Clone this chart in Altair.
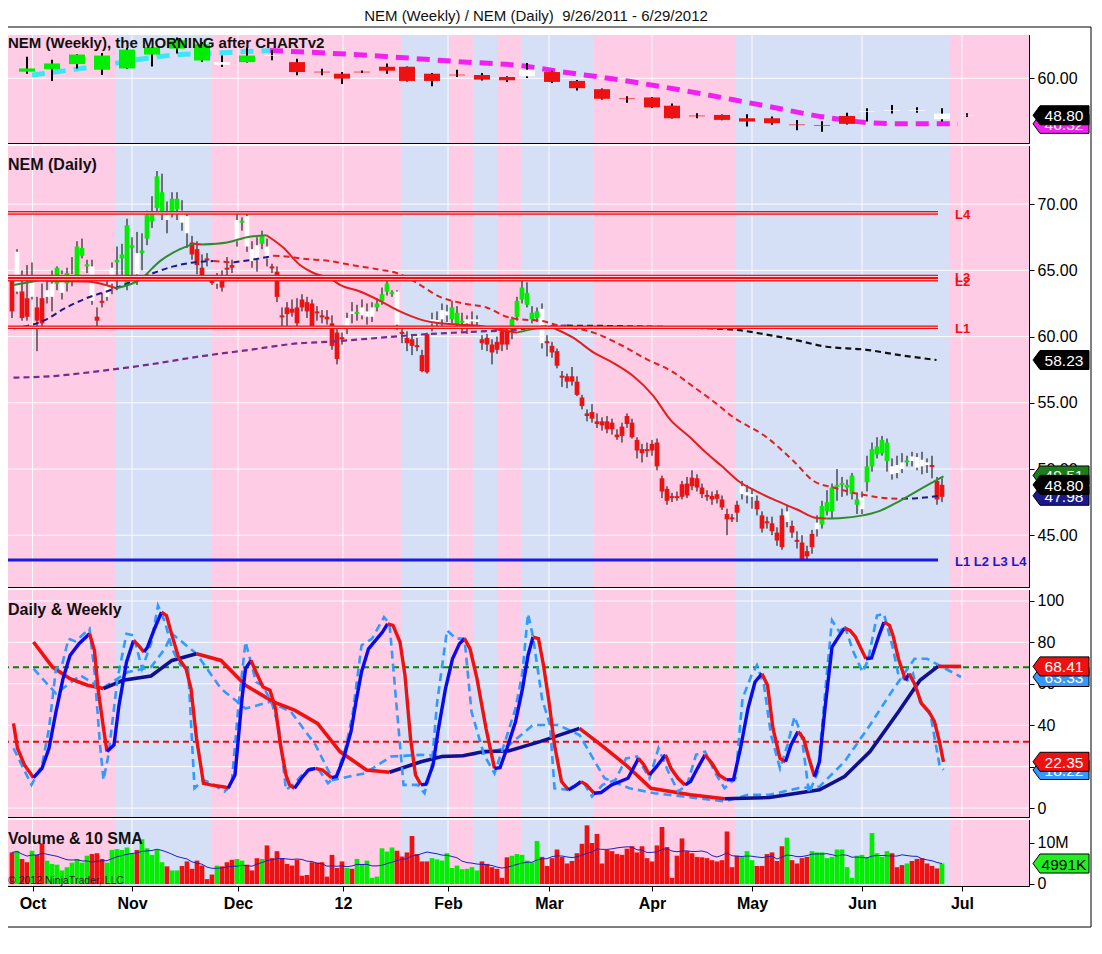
import altair as alt
import pandas as pd

FONT = "Arial"
W = 1028
H_WEEK, H_DAY, H_STO, H_VOL = 108, 441, 227, 66
XS = alt.Scale(domain=[-0.2, 205.4], nice=False, zero=False)

GREEN, RED, WHITE = "#00EE00", "#EE1111", "#FFFFFF"
PINK, LAV = "#FFCCE5", "#D5DFF5"

TITLE = "NEM (Weekly) / NEM (Daily)\u00a0\u00a09/26/2011 - 6/29/2012"

# ---------------- calendar / axis data ----------------
HOLIDAYS = ["2011-11-24", "2011-12-26", "2012-01-02", "2012-01-16",
            "2012-02-20", "2012-04-06", "2012-05-28"]
MONTH_TICKS = [6.1, 26, 47.2, 68.2, 89.2, 109.4, 130, 150, 172, 192]
MONTH_LABELS = ["Oct", "Nov", "Dec", "12", "Feb", "Mar", "Apr", "May", "Jun", "Jul"]

BAND_START = [-0.2, 22.6, 41.8, 79.8, 89.4, 94.2, 99.0, 103.8, 118.4, 146.8, 189.6]
BAND_END = [22.6, 41.8, 79.8, 89.4, 94.2, 99.0, 103.8, 118.4, 146.8, 189.6, 205.4]
BAND_KIND = ["p", "b", "p", "b", "p", "b", "p", "b", "p", "b", "p"]

# ---------------- daily bars (bar index 2 .. 188) ----------------
FIRST_BAR = 2
D_OPEN = [
    64.3, 63.4, 63.4, 62.9, 63.0, 62.2, 62.9, 63.0, 63.0, 64.0,
    63.3, 64.0, 64.2, 64.5, 66.1, 65.3, 65.3, 61.5, 62.7, 63.0,
    64.0, 65.6, 65.9, 63.9, 66.7, 66.3, 66.3, 67.4, 68.7, 69.7,
    69.4, 69.2, 69.4, 69.6, 69.5, 69.1, 67.1, 66.6, 65.2, 65.9,
    64.2, 64.0, 64.3, 65.2, 65.4, 67.2, 68.6, 69.1, 66.6, 66.9,
    67.0, 66.8, 65.3, 64.9, 61.6, 62.2, 62.1, 62.2, 62.8, 62.6,
    62.5, 61.9, 61.6, 61.5, 61.0, 60.3, 59.95, 60.6, 61.9, 61.7,
    61.6, 61.5, 61.5, 62.2, 62.7, 63.4, 63.2, 63.4, 60.35, 59.9,
    59.8, 59.35, 58.6, 60.2, 61.0, 61.1, 61.3, 61.6, 61.3, 60.9,
    61.05, 61.0, 61.15, 61.1, 59.8, 59.9, 59.4, 59.6, 60.4, 60.5,
    60.4, 61.5, 62.8, 62.4, 61.3, 61.4, 62.1, 59.65, 59.3, 58.9,
    57.05, 57.0, 57.0, 56.6, 55.4, 54.2, 54.3, 53.6, 53.6, 53.6,
    53.5, 52.6, 53.2, 54.0, 53.5, 52.2, 51.5, 51.5, 51.9, 52.0,
    49.3, 48.5, 47.95, 47.95, 48.85, 48.9, 49.35, 49.3, 48.6, 48.05,
    47.97, 48.1, 47.7, 46.6, 46.35, 47.3, 48.1, 48.0, 47.9, 47.6,
    46.5, 46.05, 45.9, 45.2, 46.5, 46.0, 45.7, 44.65, 44.45, 43.8,
    44.1, 45.45, 45.8, 46.8, 46.8, 48.65, 48.8, 48.6, 48.1, 47.3,
    46.96, 49.0, 50.2, 51.1, 51.2, 50.6, 50.2, 50.3, 50.5, 50.5,
    50.95, 50.9, 50.7, 50.5, 50.3, 49.1, 47.9]
D_HIGH = [
    64.6, 66.6, 65.0, 65.4, 65.6, 63.0, 64.0, 64.2, 65.0, 65.3,
    65.0, 65.2, 66.0, 67.2, 67.4, 65.8, 65.8, 62.2, 63.3, 64.3,
    65.6, 66.8, 67.0, 68.9, 67.5, 67.9, 67.8, 69.5, 70.6, 72.5,
    72.3, 70.2, 70.9, 70.9, 70.3, 69.4, 67.6, 67.2, 66.2, 66.3,
    64.4, 64.8, 65.0, 66.0, 65.8, 69.4, 69.0, 69.4, 67.2, 67.5,
    68.0, 67.4, 65.5, 65.3, 62.2, 62.6, 62.8, 62.9, 63.2, 63.0,
    62.8, 62.3, 62.0, 62.0, 61.6, 60.6, 60.3, 61.8, 62.6, 62.4,
    62.8, 62.5, 62.6, 62.9, 63.7, 64.4, 63.5, 63.5, 60.8, 60.4,
    60.2, 59.9, 59.0, 60.3, 61.8, 61.9, 62.5, 62.4, 62.7, 62.3,
    61.8, 61.6, 61.9, 61.6, 60.1, 60.2, 59.8, 60.0, 60.8, 60.7,
    61.5, 63.0, 64.2, 64.1, 62.3, 62.2, 62.5, 60.1, 59.6, 59.1,
    57.4, 57.2, 57.7, 57.0, 55.6, 54.5, 54.9, 54.2, 53.9, 54.0,
    53.8, 53.0, 53.5, 54.2, 53.8, 52.4, 51.9, 52.0, 52.2, 52.3,
    49.5, 48.7, 48.2, 48.3, 49.1, 49.4, 49.9, 49.6, 48.9, 48.4,
    48.3, 48.4, 48.0, 47.0, 46.6, 47.6, 49.1, 48.8, 48.5, 48.0,
    46.8, 46.4, 46.4, 45.6, 47.0, 47.2, 46.1, 45.3, 45.0, 44.2,
    45.4, 46.5, 47.6, 48.4, 48.9, 50.0, 49.4, 49.2, 49.7, 48.2,
    48.3, 51.0, 52.0, 52.4, 52.5, 52.3, 50.8, 51.0, 51.2, 51.0,
    51.3, 51.2, 51.3, 50.8, 51.0, 49.4, 49.3]
D_LOW = [
    61.4, 63.2, 61.2, 61.2, 62.8, 58.9, 60.6, 62.5, 61.9, 63.5,
    62.8, 63.4, 63.8, 64.2, 65.9, 64.8, 62.4, 60.8, 62.2, 62.7,
    63.2, 63.5, 64.3, 63.5, 64.6, 63.9, 65.0, 66.9, 68.2, 69.4,
    68.8, 67.8, 69.0, 68.8, 68.0, 66.7, 65.8, 64.7, 64.4, 65.3,
    63.9, 63.6, 63.4, 64.2, 64.8, 66.8, 68.0, 66.4, 65.2, 64.9,
    66.6, 65.3, 64.8, 62.6, 60.6, 60.8, 61.5, 60.6, 61.9, 61.4,
    60.6, 61.2, 61.0, 60.9, 59.0, 57.9, 59.4, 60.2, 61.0, 61.2,
    61.3, 60.9, 61.1, 61.9, 62.4, 63.1, 63.0, 60.5, 59.5, 58.9,
    58.6, 58.9, 57.3, 57.2, 60.4, 60.6, 60.8, 61.1, 61.0, 60.6,
    60.4, 60.2, 60.6, 60.7, 59.0, 58.9, 57.9, 58.7, 58.9, 59.0,
    59.8, 61.2, 62.5, 62.2, 61.0, 61.1, 59.1, 58.5, 58.4, 57.6,
    56.2, 56.1, 56.3, 55.5, 54.5, 53.6, 53.5, 53.1, 52.9, 52.7,
    52.6, 52.2, 52.0, 53.1, 52.3, 50.8, 50.5, 50.9, 51.0, 49.9,
    47.8, 47.3, 47.5, 47.6, 47.7, 47.8, 48.4, 48.3, 47.8, 47.6,
    47.3, 47.4, 46.9, 45.0, 46.0, 46.0, 47.7, 47.4, 47.0, 46.5,
    45.2, 45.5, 45.0, 44.2, 43.9, 45.6, 44.8, 44.0, 43.1, 43.1,
    43.6, 44.9, 45.5, 46.5, 46.3, 47.6, 47.9, 48.0, 47.7, 46.6,
    46.6, 48.3, 49.8, 50.8, 51.0, 49.8, 49.2, 49.3, 49.7, 50.2,
    50.2, 49.9, 49.6, 49.7, 49.3, 47.3, 47.5]
D_CLOSE = [
    61.9, 66.4, 61.4, 61.5, 64.2, 61.2, 61.0, 63.5, 64.0, 65.2,
    64.7, 64.8, 64.7, 66.8, 66.7, 65.45, 62.7, 61.2, 62.55, 63.9,
    65.2, 65.8, 66.2, 68.4, 66.9, 64.7, 66.5, 69.2, 69.3, 72.1,
    70.9, 68.8, 70.4, 70.4, 68.6, 67.8, 66.2, 65.4, 64.5, 65.75,
    64.05, 64.5, 63.7, 65.05, 65.2, 68.8, 68.75, 66.8, 65.7, 65.8,
    67.6, 65.9, 65.15, 63.0, 61.45, 61.7, 61.8, 61.0, 62.2, 61.9,
    60.8, 61.75, 61.45, 61.3, 59.3, 58.3, 59.8, 61.4, 61.7, 61.85,
    62.2, 61.9, 62.2, 62.5, 63.2, 64.0, 63.35, 60.9, 60.2, 59.5,
    59.3, 59.2, 57.4, 57.3, 61.3, 61.25, 62.0, 61.9, 62.2, 61.8,
    61.2, 61.3, 61.3, 61.3, 59.5, 59.4, 58.8, 59.0, 59.4, 59.4,
    61.3, 62.7, 63.7, 63.3, 61.8, 61.9, 59.5, 59.5, 58.8, 57.8,
    56.9, 56.6, 56.6, 55.6, 54.75, 54.0, 53.8, 53.4, 53.3, 53.0,
    53.0, 52.4, 52.5, 53.4, 52.4, 51.4, 51.2, 51.35, 51.4, 50.2,
    48.3, 47.6, 47.8, 47.8, 47.9, 48.0, 48.7, 48.6, 48.1, 47.9,
    47.7, 47.75, 47.1, 46.2, 46.2, 46.7, 48.7, 48.25, 48.1, 46.96,
    45.5, 45.9, 45.3, 44.6, 44.1, 46.8, 45.2, 44.5, 43.2, 43.4,
    45.1, 45.95, 47.2, 47.5, 48.6, 48.8, 48.95, 48.8, 49.5, 47.7,
    47.85, 50.2, 51.5, 51.7, 52.2, 52.0, 49.6, 49.7, 50.0, 50.65,
    50.6, 50.1, 50.2, 50.3, 50.15, 47.7, 48.8]
D_TONE = list(
    "rwrrwrrwwg" + "wgwgggwrrw" + "wggggwgggg" + "gwggwwrrrr" + "rwrrrwgwww"
    + "gwrrrrrrrr" + "rrrrrrrwwg" + "wwwggggwrr" + "rrrrwwwwgg" + "gwwwrrrrrr"
    + "ggggggwrrr" + "rrrrrrrrrr" + "rrrrrrrrrr" + "rrrrrrrrrr" + "rrrrrrwwwr"
    + "rrrrrwrrrr" + "rwgggggggg" + "wgggggwwwg" + "wwwwrrr")
D_VOLUME = [
    7.7, 8.1, 6.1, 5.3, 8.1, 7.1, 9.9, 5.7, 4.9, 4.7,
    3.3, 4.1, 5.2, 6.1, 5.2, 6.9, 7.3, 7.5, 6.1, 5.2,
    8.3, 8.5, 8.3, 8.9, 7.5, 8.3, 10.9, 8.7, 7.1, 8.3,
    5.3, 4.3, 3.3, 3.3, 4.4, 5.5, 3.7, 5.7, 4.5, 1.2,
    2.3, 4.5, 4.3, 5.3, 5.9, 6.1, 5.7, 4.7, 3.3, 6.3,
    6.1, 9.4, 6.3, 8.0, 6.3, 4.9, 4.5, 5.9, 2.0, 2.2,
    5.3, 5.2, 5.3, 1.8, 7.1, 3.9, 5.5, 3.9, 3.7, 6.1,
    4.9, 5.7, 1.5, 1.8, 8.7, 7.9, 8.9, 8.1, 6.7, 7.7,
    11.7, 7.3, 5.5, 5.5, 6.3, 6.0, 5.7, 7.5, 3.9, 4.5,
    3.6, 3.7, 4.1, 3.3, 5.5, 4.9, 4.1, 3.7, 1.5, 6.5,
    6.9, 7.3, 7.1, 5.7, 5.3, 10.5, 6.6, 4.4, 6.3, 8.4,
    6.6, 5.0, 5.6, 7.5, 9.8, 14.3, 10.0, 12.2, 5.0, 8.3,
    8.0, 7.3, 7.1, 8.6, 9.2, 7.7, 9.2, 6.3, 5.5, 9.4,
    13.9, 9.0, 1.5, 6.9, 11.1, 8.0, 7.5, 6.6, 6.5, 6.3,
    5.8, 5.5, 5.8, 12.8, 4.1, 6.9, 6.7, 8.0, 5.8, 4.4,
    4.4, 7.3, 7.7, 5.6, 9.2, 11.3, 5.8, 5.0, 6.3, 6.6,
    8.0, 7.7, 7.7, 6.3, 6.6, 8.4, 8.4, 4.1, 1.5, 6.9,
    7.1, 6.5, 12.4, 7.5, 6.6, 8.0, 7.5, 4.1, 4.6, 5.0,
    5.6, 6.1, 6.3, 5.0, 4.4, 3.8, 5.0]

# ---------------- weekly bars ----------------
W_OPEN = [62.0, 62.8, 64.3, 62.6, 63.0, 67.2, 69.0, 65.4, 64.9, 64.9,
          66.8, 64.9, 62.0, 61.4, 62.0, 63.5, 63.5, 61.4, 61.1, 61.0,
          60.4, 60.6, 61.9, 59.2, 56.7, 53.9, 54.2, 51.7, 48.7, 48.9,
          47.9, 47.9, 46.0, 45.8, 46.2, 49.8, 50.1, 50.1, 49.3, 48.9]
W_HIGH = [66.5, 65.6, 67.3, 67.7, 69.2, 69.5, 72.4, 71.0, 66.9, 69.3,
          68.6, 65.9, 62.9, 61.9, 62.4, 64.5, 63.6, 61.6, 62.6, 61.6,
          60.6, 64.6, 62.3, 59.5, 56.9, 54.6, 54.3, 52.4, 49.4, 49.0,
          49.1, 48.4, 47.4, 47.0, 49.6, 50.9, 51.9, 51.2, 50.9, 49.4]
W_LOW = [61.4, 59.2, 63.0, 61.0, 62.9, 63.6, 67.5, 65.0, 63.4, 64.8,
         65.5, 60.9, 60.9, 58.3, 61.6, 61.4, 59.0, 57.6, 60.4, 59.3,
         58.9, 60.1, 58.6, 56.3, 53.6, 52.6, 51.0, 47.8, 47.9, 47.3,
         45.4, 45.9, 44.3, 43.8, 46.0, 46.9, 49.3, 49.6, 46.9, 48.3]
W_CLOSE = [63.0, 64.5, 67.2, 66.9, 68.7, 69.4, 71.5, 70.3, 64.1, 66.9,
           67.0, 61.9, 61.8, 59.9, 61.8, 62.3, 59.2, 59.2, 60.9, 59.6,
           59.4, 62.6, 58.9, 57.0, 53.8, 53.7, 51.2, 47.9, 48.5, 47.4,
           46.9, 46.4, 45.8, 45.6, 48.6, 50.0, 50.3, 50.3, 47.6, 48.8]
W_TONE = list("gggggggg" + "wgw" + "r" * 10 + "w" + "r" * 13 + "wwwww")

# ---------------- indicator lines (bar index, value) ----------------
W_MA = [(6, 61.0), (13.6, 62.5), (20.6, 64.0), (27.6, 65.8), (34.6, 67.1), (41.8, 67.6),
        (48.8, 68.1), (53.6, 68.4), (62.8, 67.8), (76.8, 66.6), (90.8, 65.1), (105, 63.6),
        (109.6, 62.5), (123.6, 59.5), (137.8, 55.9), (151.8, 51.9), (166, 47.9), (173, 46.6),
        (180, 46.2), (191.2, 46.2)]
MA_FAST = [(2.3, 63.9), (7.6, 64.25), (10.3, 64.2), (16.9, 64.15), (22.9, 63.65), (27.6, 64.3),
           (31.6, 65.7), (35.6, 66.6), (38.3, 67.0), (40, 66.95), (45, 67.1), (49, 67.5),
           (52.9, 67.65), (56.3, 66.7), (59.6, 65.4), (62.3, 64.8), (65.6, 64.4), (67.6, 63.9),
           (71.6, 63.4), (75.6, 62.7), (79.6, 61.9), (83.6, 61.3), (87.6, 61.0), (91.6, 60.9),
           (95.6, 60.8), (99.6, 60.5), (103, 60.3), (107, 60.6), (110.3, 60.65), (114.3, 59.9),
           (118.3, 58.8), (122.3, 58.0), (126.3, 57.0), (130.3, 55.5), (133.6, 53.75),
           (137.6, 52.4), (140.9, 51.2), (144, 50.2), (147.6, 49.0), (151, 48.3), (154.3, 47.7),
           (158.9, 46.96), (162.9, 46.3), (164.9, 46.26), (168, 46.3), (171.6, 46.46),
           (175.6, 46.84), (179.6, 47.6), (183.6, 48.47), (188.3, 49.45)]
MA_MID = [(2.3, 60.6), (8.3, 61.2), (12.9, 62.2), (16.9, 62.9), (21.6, 63.5), (26.3, 64.2),
          (30.3, 64.8), (34.3, 65.3), (38.3, 65.6), (42.3, 65.7), (46.3, 65.6), (50, 65.8),
          (54.3, 66.1), (57, 66.05), (59.6, 65.9), (65.6, 65.7), (70, 65.4), (75.6, 65.05),
          (78.9, 64.8), (82.3, 64.2), (87.6, 63.0), (92.3, 62.5), (96.9, 62.2), (100.9, 61.5),
          (103.6, 61.3), (107.6, 61.2), (111.6, 60.8), (118.3, 60.3), (123.6, 59.4),
          (128.9, 58.3), (134.3, 57.3), (137.6, 56.4), (142.3, 55.1), (146.3, 53.9),
          (152.9, 52.4), (158.3, 50.6), (162.3, 49.1), (166.3, 48.6), (171.6, 48.1),
          (176.9, 47.8), (180, 47.75), (183, 47.8), (187.6, 47.98)]
MA_SLOW = [(2.3, 56.9), (9.6, 57.0), (19.6, 57.4), (29.6, 57.9), (39.6, 58.5), (49.6, 59.0),
           (59.6, 59.5), (65, 59.6), (73.6, 59.85), (83.6, 60.15), (93.6, 60.35), (103.6, 60.55),
           (108, 60.75), (113, 60.82), (120.3, 60.8), (131.6, 60.73), (139.6, 60.65),
           (147, 60.5), (152.9, 60.15), (158, 59.8), (164.3, 59.27), (172.9, 59.0),
           (179.6, 58.6), (186.9, 58.23)]

L_NAMES = ["L4", "L3", "L2", "L1"]
L_LEVELS = [69.34, 64.54, 64.30, 60.70]
L_BLUE = 43.12

STO_D = [(2.3, 40.9), (3.1, 28.9), (4.5, 20.8), (6.3, 14.7), (8, 19.2), (9.4, 28.9), (10.8, 46.5),
         (12.2, 62.5), (13.6, 73.7), (15.4, 79.4), (17.5, 84.2), (18.5, 76.1), (19.2, 57.7),
         (20.3, 38.5), (21, 27.3), (22.4, 30.5), (23.4, 49.7), (24.9, 70.5), (26.3, 80.9),
         (27.3, 78.5), (28.4, 75.3), (29.1, 77.7), (30.5, 86.6), (31.9, 94.6), (32.9, 93),
         (34, 83.4), (35.4, 72.1), (36.8, 67.3), (37.8, 57.7), (38.9, 33.7), (40.3, 12),
         (41.7, 11.2), (44.5, 10.2), (45.2, 9.6), (46.6, 16), (48, 52.9), (48.7, 67.3),
         (49.8, 71.3), (50.8, 65.7), (52.2, 58.5), (53.6, 56.9), (54.7, 48.1), (55.7, 30.5),
         (56.8, 16), (57.5, 11.2), (58.5, 9.6), (59.9, 14.4), (61.3, 18.4), (62.7, 19.2),
         (64.1, 18.4), (65.9, 14.7), (66.9, 15.2), (68.3, 24), (69.8, 36.9), (70.8, 51.3),
         (71.9, 65.7), (73.3, 76.9), (75, 81.8), (76.1, 85), (77.1, 89), (78.2, 88.2),
         (79.6, 80.2), (80.6, 64.1), (81.7, 33.7), (82.7, 16), (83.8, 11.2), (84.8, 11.5),
         (86.2, 20.8), (87.3, 38.5), (88.7, 57.7), (90.1, 72.1), (91.5, 79.4), (92.5, 81.8),
         (93.6, 77), (95, 62.5), (96.8, 38.5), (98.5, 19.2), (99.6, 19.5), (101, 28.9),
         (102.7, 41.7), (104.1, 57.7), (105.2, 73.7), (106.2, 82.6), (107.3, 81.8),
         (108.3, 69), (109.4, 51.3), (110.5, 30.5), (111.9, 12.8), (113.3, 8.8), (114.4, 10.4),
         (115.8, 12.8), (116.9, 11.2), (118.4, 7.2), (119.8, 7.5), (121.9, 11.2),
         (125.2, 14.4), (127.3, 24), (128.4, 20.8), (129.5, 16), (130.9, 20), (132.7, 25.7),
         (133.8, 19.2), (135.2, 14.4), (136.6, 11.2), (137.7, 12.8), (139.1, 19.2),
         (140.6, 25.7), (142, 21.6), (143.4, 16), (144.9, 13.6), (146.3, 13.8), (147.7, 28.9),
         (149.2, 48.1), (150.6, 60.9), (152, 64.9), (153.1, 59.3), (154.2, 38.5), (155.6, 24),
         (156.7, 22.4), (157.8, 30.5), (159.2, 36.9), (160.3, 33.7), (161.4, 24),
         (162.5, 15.2), (163.5, 22.4), (164.6, 48.1), (166, 77.7), (167.5, 83.4),
         (168.5, 86.9), (169.6, 85.8), (170.7, 82.6), (171.8, 77), (172.8, 72.1),
         (173.9, 72.5), (175.4, 83.4), (176.4, 89.8), (177.5, 88.2), (178.2, 83.4),
         (179.3, 72.1), (180.7, 61.7), (181.4, 64.9), (182.5, 60.1), (183.9, 50.5),
         (185.4, 46.5), (186.5, 41.7), (187.5, 32), (188.3, 22.35)]
STO_D_FAST = [(2.3, 28.9), (5.9, 11.2), (8, 20.8), (9.4, 38.5), (10.8, 67.3), (12, 69),
              (13.3, 81.8), (14.7, 80.5), (17.5, 86.6), (18.5, 65.7), (19.6, 30.5),
              (20.3, 13.6), (21.3, 25.7), (23.1, 62.5), (24.9, 84.2), (26.3, 83.4), (28, 67.3),
              (29.8, 79.4), (31.2, 97.8), (32.6, 89.8), (34, 77), (35.7, 68.9), (37.2, 68.5),
              (38.5, 9.6), (40.3, 13.6), (42.4, 11.2), (44.5, 8), (45.9, 11.2), (47.3, 49.7),
              (48.7, 80.2), (49.4, 74), (50.8, 60.9), (52.2, 59), (54, 50.5), (55.4, 38.5),
              (56.8, 8.8), (58.2, 11.2), (60, 16), (61.7, 19.2), (63.4, 18.4), (65.2, 12),
              (66.9, 16), (68.7, 28.9), (70.1, 44.9), (71.9, 78.5), (74, 81.8), (76.4, 92.2),
              (77.5, 89), (78.9, 49.7), (80.3, 11.2), (83.1, 11.2), (84.5, 7.2), (85.9, 19.2),
              (87, 50.5), (89, 85.8), (90.8, 81.8), (92.5, 81.8), (93.9, 46.5), (96.4, 25.7),
              (98.5, 16.8), (100.6, 32), (102.7, 48.1), (104.1, 65.7), (105.2, 93.8),
              (106.2, 82.6), (108, 52.9), (109.6, 40.1), (110.5, 9.6), (113.3, 8.8),
              (116.2, 12.8), (118, 5.6), (120.1, 11.2), (122.7, 13.6), (124.8, 24), (127, 24.9),
              (129.5, 14.4), (131.3, 28.9), (133.1, 18.4), (135.2, 8), (137, 11.2),
              (138.8, 25.7), (140.6, 27.3), (142.7, 16.8), (144.5, 9.6), (146.7, 14.4),
              (148.1, 52.9), (149.9, 64.1), (151, 69), (152.4, 59.3), (153.8, 35.3),
              (155.6, 19.2), (157.1, 30.5), (158.5, 44.1), (159.9, 35.3), (161.4, 7.2),
              (163.2, 17.6), (165, 65.7), (166, 90.6), (167.5, 85), (168.5, 88.2),
              (170.3, 75.3), (172.1, 65.7), (173.2, 71.3), (175, 93), (176.4, 93.8),
              (178.2, 77), (179.3, 64.1), (181.1, 61.7), (182.2, 64.9), (183.6, 51.3),
              (185.7, 44.9), (187.5, 20.8), (188.3, 18.4)]
STO_W = [(6.3, 80.2), (10.1, 68.1), (13.6, 62.5), (17.1, 59.3), (20.3, 57.7), (24.2, 61.7),
         (29.8, 63.8), (34, 71.3), (38.9, 74.5), (43.8, 71.3), (48.7, 59.3), (54.3, 51.3),
         (58.5, 47.3), (63.1, 40.9), (67.6, 27.3), (72.9, 18.4), (77.5, 17.3), (83.8, 22.4),
         (88, 24.9), (92.2, 25.3), (96.4, 27.3), (101.3, 27.6), (107.6, 32.1), (115.5, 38.5),
         (119.8, 30.5), (124.8, 20.8), (129.8, 9.6), (137.7, 6.4), (144.5, 4.5), (153.5, 5.1),
         (163.5, 8.8), (168.5, 15.2), (173.6, 27.3), (179.3, 46.5), (183.6, 61.7),
         (187.2, 68.41), (191.8, 68.41)]
STO_W_FAST = [(6.3, 67.3), (10.8, 55.3), (15.7, 64.1), (20, 57.7), (25.2, 65.7), (29.8, 68.1),
              (32.6, 77), (34, 84.2), (38.9, 74.5), (43.8, 57.7), (48.7, 48.1), (53.6, 51.3),
              (57.8, 46.5), (62.7, 30.5), (66.2, 13.6), (72.6, 16.8), (77.8, 24.9),
              (83.8, 25.7), (90.1, 24.9), (96.4, 26.5), (100.6, 28.9), (106.2, 40.1),
              (111.2, 40.1), (115.5, 35.3), (120.5, 14.4), (125.5, 9.6), (130.5, 7.2),
              (136.3, 5.6), (144.5, 3.2), (149.2, 6.4), (153.5, 6.4), (159.2, 9.6),
              (163.5, 10.4), (168.5, 22.4), (173.6, 40.1), (177.9, 56.1), (182.5, 72.1),
              (185, 72.1), (191.8, 63.3)]
STO_HI, STO_LO = 68, 32

FLAGS_W = [(46.2, "46.32", "#EE22EE", "#FFFFFF"), (48.8, "48.80", "#000000", "#FFFFFF")]
FLAGS_D = [(58.23, "58.23", "#000000", "#FFFFFF"), (49.51, "49.51", "#1E7B1E", "#FFFFFF"),
           (47.98, "47.98", "#1A1A8C", "#FFFFFF"), (48.80, "48.80", "#000000", "#FFFFFF")]
FLAGS_S = [(63.3, "63.33", "#3399FF", "#FFFFFF"), (68.41, "68.41", "#EE1111", "#FFFFFF"),
           (18.4, "18.22", "#3399FF", "#FFFFFF"), (22.35, "22.35", "#EE1111", "#FFFFFF")]
FLAGS_V = [(4.991, "4991K", "#22EE22", "#000000")]

# ---------------- tables ----------------
n = len(D_OPEN)
for name, arr in [("high", D_HIGH), ("low", D_LOW), ("close", D_CLOSE), ("tone", D_TONE),
                  ("volume", D_VOLUME)]:
    if len(arr) != n:
        raise ValueError(f"{name}: {len(arr)} != {n}")
daily = pd.DataFrame({"i": list(range(FIRST_BAR, FIRST_BAR + n)), "o": D_OPEN, "h": D_HIGH,
                      "l": D_LOW, "c": D_CLOSE, "tone": D_TONE, "vol": D_VOLUME})
daily["x1"] = daily["i"] - 0.47
daily["x2"] = daily["i"] + 0.47
daily["z"] = 0.0
daily["vt"] = ["g" if c >= o else "r" for o, c in zip(daily["o"], daily["c"])]

days = [d for d in pd.bdate_range("2011-09-26", "2012-06-29")
        if d.strftime("%Y-%m-%d") not in HOLIDAYS]
week_pos = []
for k in range(len(W_OPEN)):
    mon = pd.Timestamp("2011-09-26") + pd.Timedelta(days=7 * k)
    last = max(j for j, d in enumerate(days) if mon <= d <= mon + pd.Timedelta(days=4))
    week_pos.append(last + 1)
weekly = pd.DataFrame({"i": week_pos, "o": W_OPEN, "h": W_HIGH, "l": W_LOW, "c": W_CLOSE,
                       "tone": W_TONE})
weekly["x1"] = weekly["i"] - 1.6
weekly["x2"] = weekly["i"] + 1.6

bands_df = pd.DataFrame({"s": BAND_START, "e": BAND_END,
                         "clr": [PINK if k == "p" else LAV for k in BAND_KIND]})
month_df = pd.DataFrame({"t": MONTH_TICKS})

TONE = alt.Scale(domain=["g", "r", "w"], range=[GREEN, RED, WHITE])


def runs(pairs, up, down, tag):
    rows, prev, r = [], None, 0
    for (x1, y1), (x2, y2) in zip(pairs[:-1], pairs[1:]):
        d = up if y2 > y1 else down
        if d != prev:
            r += 1
            rows.append(dict(i=x1, v=y1, run=f"{tag}{r}", clr=d))
            prev = d
        rows.append(dict(i=x2, v=y2, run=f"{tag}{r}", clr=d))
    return pd.DataFrame(rows)


def yaxis(values, fmt=None, expr=None):
    kw = dict(orient="right", values=values, labelFontSize=16, labelFont=FONT,
              labelColor="black", tickColor="black", tickSize=5, domainColor="black",
              grid=False, title=None, labelPadding=3, labelFlush=False, labelOverlap=False)
    if fmt:
        kw["format"] = fmt
    if expr:
        kw["labelExpr"] = expr
    return alt.Axis(**kw)


thr = [(a + b) / 2 for a, b in zip(MONTH_TICKS[:-1], MONTH_TICKS[1:])]
MONTH_EXPR = "".join(f"datum.value < {t} ? '{lab}' : " for t, lab in zip(thr, MONTH_LABELS)) \
    + f"'{MONTH_LABELS[-1]}'"

FLAG = "M-1,0L-0.75,-0.34L1,-0.34L1,0.34L-0.75,0.34Z"


class Panel:
    """Shared scales/axes of one panel, so every layer carries the same axis spec."""

    def __init__(self, ys, ya, xa=None):
        self.ys, self.ya, self.xa = ys, ya, xa

    def X(self, f):
        return alt.X(f, scale=XS, axis=self.xa, title=None)

    def Y(self, f):
        return alt.Y(f, scale=self.ys, axis=self.ya, title=None)

    def background(self, hticks):
        bands = alt.Chart(bands_df).mark_rect(clip=True).encode(
            x=self.X("s:Q"), x2="e:Q", color=alt.Color("clr:N", scale=None))
        vgrid = alt.Chart(month_df).mark_rule(color="white", strokeWidth=1, opacity=0.9).encode(
            x=self.X("t:Q"))
        out = [bands, vgrid]
        if hticks:
            out.append(alt.Chart(pd.DataFrame({"y": hticks})).mark_rule(
                color="white", strokeWidth=1, opacity=0.9).encode(y=self.Y("y:Q")))
        return out

    def line(self, pairs, up, down, tag, width, dash=None, interp="linear"):
        kw = dict(strokeWidth=width, clip=True, interpolate=interp, strokeCap="butt")
        if dash:
            kw["strokeDash"] = dash
        return alt.Chart(runs(pairs, up, down, tag)).mark_line(**kw).encode(
            x=self.X("i:Q"), y=self.Y("v:Q"), detail="run:N",
            color=alt.Color("clr:N", scale=None))

    def candles(self, df, wick_w):
        wick = alt.Chart(df).mark_rule(color="black", strokeWidth=wick_w, clip=True).encode(
            x=self.X("i:Q"), y=self.Y("l:Q"), y2="h:Q")
        body = alt.Chart(df).mark_rect(clip=True).encode(
            x=self.X("x1:Q"), x2="x2:Q", y=self.Y("o:Q"), y2="c:Q",
            color=alt.Color("tone:N", scale=TONE, legend=None))
        return [wick, body]

    def flags(self, rows):
        out = []
        for v, lab, bg, tc in rows:
            df = pd.DataFrame({"v": [v], "lab": [lab]})
            out.append(alt.Chart(df).mark_point(shape=FLAG, filled=True, size=3136, opacity=1,
                                                fill=bg, stroke="#000000", strokeWidth=1,
                                                clip=False).encode(
                x=alt.value(W + 32), y=self.Y("v:Q")))
            out.append(alt.Chart(df).mark_text(align="center", baseline="middle", font=FONT,
                                               fontSize=15.5, color=tc, dy=1,
                                               clip=False).encode(
                x=alt.value(W + 35), y=self.Y("v:Q"), text="lab:N"))
        return out


def label(text, x, y, size=16, weight="bold", color="#111111", align="left"):
    return alt.Chart(pd.DataFrame({"t": [text]})).mark_text(
        align=align, baseline="middle", font=FONT, fontSize=size, fontWeight=weight,
        color=color, clip=False).encode(x=alt.value(x), y=alt.value(y), text="t:N")


# ---------------- weekly panel (also carries page title and outer frame) ----------------
PW = Panel(alt.Scale(domain=[40.4, 73.12], nice=False, zero=False), yaxis([60], ".2f"))
frame = alt.Chart(pd.DataFrame({"k": [0]})).mark_rect(
    fillOpacity=0, stroke="black", strokeWidth=1, clip=False).encode(
    x=alt.value(0), x2=alt.value(W + 62), y=alt.value(-8), y2=alt.value(892))
p_week = alt.layer(
    frame,
    *PW.background([60]),
    PW.line(W_MA, "#3FE5F5", "#F020F0", "wma", 5, [13, 8], "monotone"),
    *PW.candles(weekly, 2),
    label("NEM (Weekly), the MORNING after CHARTv2", 7, 8, size=15),
    label(TITLE, 535, -19, size=15, weight="normal", align="center"),
    *PW.flags(FLAGS_W),
).properties(width=W, height=H_WEEK)

# ---------------- daily panel ----------------
PD = Panel(alt.Scale(domain=[41.09, 74.39], nice=False, zero=False),
           yaxis([45, 50, 55, 60, 65, 70], ".2f"))
lv_df = pd.DataFrame({"lv": L_LEVELS, "a": [-0.2] * 4, "b": [187.2] * 4})
blue_df = pd.DataFrame({"lv": [L_BLUE], "a": [-0.2], "b": [187.2]})
red_lines = alt.Chart(lv_df).mark_rule(color=RED, strokeWidth=3.6, clip=True).encode(
    x=PD.X("a:Q"), x2="b:Q", y=PD.Y("lv:Q"))
red_inner = alt.Chart(lv_df).mark_rule(color="#FFD8E8", strokeWidth=1, clip=True).encode(
    x=PD.X("a:Q"), x2="b:Q", y=PD.Y("lv:Q"))
blue_line = alt.Chart(blue_df).mark_rule(color="#1A1AE0", strokeWidth=3, clip=True).encode(
    x=PD.X("a:Q"), x2="b:Q", y=PD.Y("lv:Q"))
ltxt_df = pd.DataFrame({"t": L_NAMES + ["L1 L2 L3 L4"], "v": L_LEVELS + [L_BLUE],
                        "clr": [RED] * 4 + ["#1A1ACC"], "x": [190.6] * 5})
ltxt = alt.Chart(ltxt_df).mark_text(align="left", baseline="middle", font=FONT, fontSize=13,
                                    fontWeight="bold", dy=2).encode(
    x=PD.X("x:Q"), y=PD.Y("v:Q"), text="t:N", color=alt.Color("clr:N", scale=None))

p_day = alt.layer(
    *PD.background([45, 50, 55, 60, 65, 70]),
    *PD.candles(daily, 1),
    PD.line(MA_SLOW, "#7A2A8A", "#111111", "slow", 2.2, [6, 4], "monotone"),
    PD.line(MA_MID, "#1A1A8C", "#E02020", "mid", 2, [6, 4], "monotone"),
    PD.line(MA_FAST, "#2E8B2E", "#E02020", "fast", 2, None, "monotone"),
    red_lines, red_inner, blue_line, ltxt,
    label("NEM (Daily)", 7, 19),
    *PD.flags(FLAGS_D),
).properties(width=W, height=H_DAY)

# ---------------- stochastics panel ----------------
PS = Panel(alt.Scale(domain=[-4.3, 105.3], nice=False, zero=False),
           yaxis([0, 20, 40, 60, 80, 100], "d"))
hi_lo = pd.DataFrame({"y": [STO_HI, STO_LO], "clr": ["#008800", "#DD1111"]})
hl = alt.Chart(hi_lo).mark_rule(strokeWidth=2, strokeDash=[6, 4]).encode(
    y=PS.Y("y:Q"), color=alt.Color("clr:N", scale=None))
p_sto = alt.layer(
    *PS.background([0, 20, 40, 60, 80, 100]),
    hl,
    PS.line(STO_W_FAST, "#3399FF", "#3399FF", "wf", 2.6, [8, 5]),
    PS.line(STO_W, "#101090", "#EE1111", "ws", 3.6),
    PS.line(STO_D_FAST, "#3399FF", "#3399FF", "df", 2.6, [8, 5]),
    PS.line(STO_D, "#0A0AEE", "#EE1111", "ds", 3.4),
    label("Daily & Weekly", 7, 20),
    *PS.flags(FLAGS_S),
).properties(width=W, height=H_STO)

# ---------------- volume panel ----------------
xaxis = alt.Axis(values=MONTH_TICKS, labelExpr=MONTH_EXPR, labelFontSize=16,
                 labelFontWeight="bold", labelFont=FONT, labelColor="black", tickColor="black",
                 tickSize=5, domain=False, grid=False, labelPadding=4, title=None,
                 labelFlush=False, labelOverlap=False)
PV = Panel(alt.Scale(domain=[-0.49, 15.6], nice=False, zero=False),
           yaxis([0, 10], None, "datum.value == 0 ? '0' : '10M'"), xaxis)
vol_bars = alt.Chart(daily).mark_rect(clip=True).encode(
    x=PV.X("x1:Q"), x2="x2:Q", y=PV.Y("vol:Q"), y2="z:Q",
    color=alt.Color("vt:N", scale=TONE, legend=None))
vol_sma = alt.Chart(daily).transform_window(
    sma="mean(vol)", frame=[-9, 0], sort=[{"field": "i"}]
).mark_line(color="#2020C0", strokeWidth=1, clip=True).encode(
    x=PV.X("i:Q"), y=PV.Y("sma:Q"))
p_vol = alt.layer(
    *PV.background([]), vol_bars, vol_sma,
    label("Volume & 10 SMA", 7, 19),
    label("\u00a9 2012 NinjaTrader, LLC", 7, 61, size=10.5, weight="normal", color="#222222"),
    *PV.flags(FLAGS_V),
).properties(width=W, height=H_VOL)

chart = alt.vconcat(p_week, p_day, p_sto, p_vol, spacing=3).properties(
    bounds="flush",
    padding={"left": -9, "top": 0, "right": 0, "bottom": 0},
    background="white",
).configure_view(stroke="black", strokeWidth=1)

chart.save("out.html", embed_options={"renderer": "svg", "actions": False})
